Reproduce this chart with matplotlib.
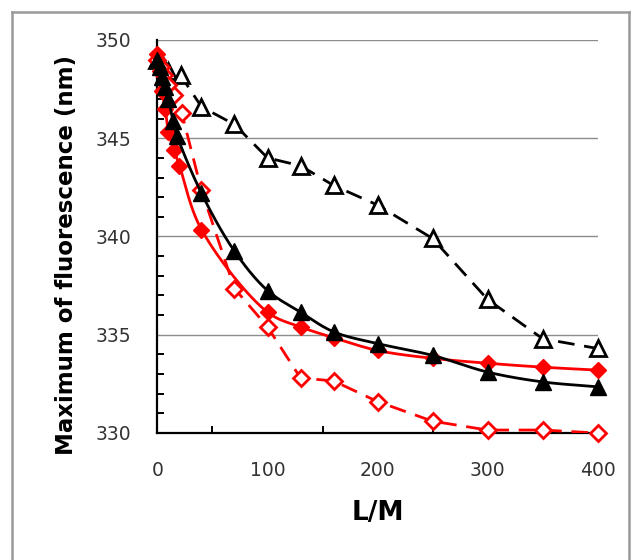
import numpy as np
import matplotlib
matplotlib.use('Agg')
import matplotlib.pyplot as plt
from matplotlib.lines import Line2D

# 数据
x_red_fill = [0, 2, 4, 7, 10, 15, 20, 40, 100, 130, 160, 200, 250, 300, 350, 400]
y_red_fill = [349.3, 348.4, 347.4, 346.5, 345.3, 344.4, 343.6, 340.35, 336.15, 335.4, 334.85,
              334.2, 333.8, 333.55, 333.35, 333.2]

x_red_open = [0, 3, 6, 10, 15, 22, 40, 70, 100, 130, 160, 200, 250, 300, 350, 400]
y_red_open = [349.0, 348.6, 348.2, 347.7, 347.2, 346.3, 342.35, 337.35, 335.4, 332.8, 332.65,
              331.6, 330.6, 330.15, 330.15, 330.0]

x_blk_fill = [0, 2, 4, 7, 10, 14, 18, 40, 70, 100, 130, 160, 200, 250, 300, 350, 400]
y_blk_fill = [349.0, 348.6, 348.1, 347.6, 347.0, 345.9, 345.1, 342.2, 339.25, 337.25, 336.15,
              335.15, 334.55, 333.95, 333.1, 332.6, 332.35]

x_blk_open = [0, 5, 10, 21, 40, 70, 100, 130, 160, 200, 250, 300, 350, 400]
y_blk_open = [349.0, 348.7, 348.4, 348.2, 346.6, 345.7, 344.0, 343.6, 342.6, 341.6, 339.9,
              336.8, 334.8, 334.3]


def smooth(xs, ys, n=30, sx=1.1, sy=19.7):
    # 向心 Catmull-Rom 平滑 (在像素尺度下计算), 类似 Excel 的平滑线
    p = np.column_stack([np.array(xs) * sx, np.array(ys) * sy]).astype(float)
    p = np.vstack([2 * p[0] - p[1], p, 2 * p[-1] - p[-2]])
    out = []
    for i in range(1, len(p) - 2):
        P0, P1, P2, P3 = p[i - 1], p[i], p[i + 1], p[i + 2]
        t0 = 0.0
        t1 = t0 + max(np.linalg.norm(P1 - P0), 1e-6) ** 0.5
        t2 = t1 + max(np.linalg.norm(P2 - P1), 1e-6) ** 0.5
        t3 = t2 + max(np.linalg.norm(P3 - P2), 1e-6) ** 0.5
        t = np.linspace(t1, t2, n)[:, None]
        A1 = (t1 - t) / (t1 - t0) * P0 + (t - t0) / (t1 - t0) * P1
        A2 = (t2 - t) / (t2 - t1) * P1 + (t - t1) / (t2 - t1) * P2
        A3 = (t3 - t) / (t3 - t2) * P2 + (t - t2) / (t3 - t2) * P3
        B1 = (t2 - t) / (t2 - t0) * A1 + (t - t0) / (t2 - t0) * A2
        B2 = (t3 - t) / (t3 - t1) * A2 + (t - t1) / (t3 - t1) * A3
        C = (t2 - t) / (t2 - t1) * B1 + (t - t1) / (t2 - t1) * B2
        out.append(C)
    out = np.vstack(out)
    return out[:, 0] / sx, out[:, 1] / sy


fig = plt.figure(figsize=(6.36, 5.6), dpi=100)
ax = fig.add_axes([0.2476, 0.2268, 0.692, 0.7018])

red = '#FF0000'
lw = 2.0
dash = (6, 3.5)

# 黑色空心三角 (虚线)
ax.plot(x_blk_open, y_blk_open, color='black', lw=lw, dashes=dash, zorder=3)
ax.plot(x_blk_open, y_blk_open, ls='none', marker='^', ms=12, mfc='white', mec='black', mew=2,
        zorder=4, clip_on=False)

# 红色空心菱形 (虚线)
ax.plot(x_red_open, y_red_open, color=red, lw=lw, dashes=dash, zorder=3)
ax.plot(x_red_open, y_red_open, ls='none', marker='D', ms=8.5, mfc='white', mec=red, mew=2,
        zorder=4, clip_on=False)

# 红色实心菱形 (平滑实线)
sx, sy = smooth(x_red_fill, y_red_fill)
ax.plot(sx, sy, color=red, lw=lw, zorder=5)
ax.plot(x_red_fill, y_red_fill, ls='none', marker='D', ms=8.5, mfc=red, mec=red, zorder=6,
        clip_on=False)

# 黑色实心三角 (平滑实线)
sx, sy = smooth(x_blk_fill, y_blk_fill)
ax.plot(sx, sy, color='black', lw=lw, zorder=7)
ax.plot(x_blk_fill, y_blk_fill, ls='none', marker='^', ms=12, mfc='black', mec='black', zorder=8,
        clip_on=False)

ax.set_xlim(0, 400)
ax.set_ylim(330, 350)
ax.set_xticks([0, 100, 200, 300, 400])
ax.set_xticks(np.arange(0, 401, 50), minor=True)
ax.set_yticks([330, 335, 340, 345, 350])
ax.set_yticks(np.arange(330, 351, 1), minor=True)
ax.grid(axis='y', which='major', color='#8c8c8c', lw=1.0, zorder=0)
ax.set_axisbelow(True)

for s in ['top', 'right']:
    ax.spines[s].set_visible(False)
for s in ['left', 'bottom']:
    ax.spines[s].set_linewidth(1.6)
ax.tick_params(which='both', direction='in', width=1.4, colors='black', labelcolor='#333333')
ax.tick_params(which='major', axis='y', length=0, pad=19, labelsize=13.5)
ax.tick_params(which='minor', axis='y', length=5)
ax.tick_params(which='major', axis='x', length=0, pad=20, labelsize=13.5)
ax.tick_params(which='minor', axis='x', length=5)

ax.set_ylabel('Maximum of fluorescence (nm)', fontsize=16.5, fontweight='bold')
ax.yaxis.set_label_coords(-0.18, 0.453)
ax.set_xlabel('L/M', fontsize=19, fontweight='bold')
ax.xaxis.set_label_coords(0.5, -0.17)

# 外边框 (灰色, 底部无线)
fx0, fx1 = 11.5 / 636, 628.5 / 636
fy0, fy1 = 0.0, 1 - 11.5 / 560
for xs, ys in [([fx0, fx0], [fy0, fy1]), ([fx0, fx1], [fy1, fy1]), ([fx1, fx1], [fy1, fy0])]:
    fig.add_artist(Line2D(xs, ys, color='#9a9a9a', lw=1.8, transform=fig.transFigure))

plt.savefig('out.png', dpi=100)
